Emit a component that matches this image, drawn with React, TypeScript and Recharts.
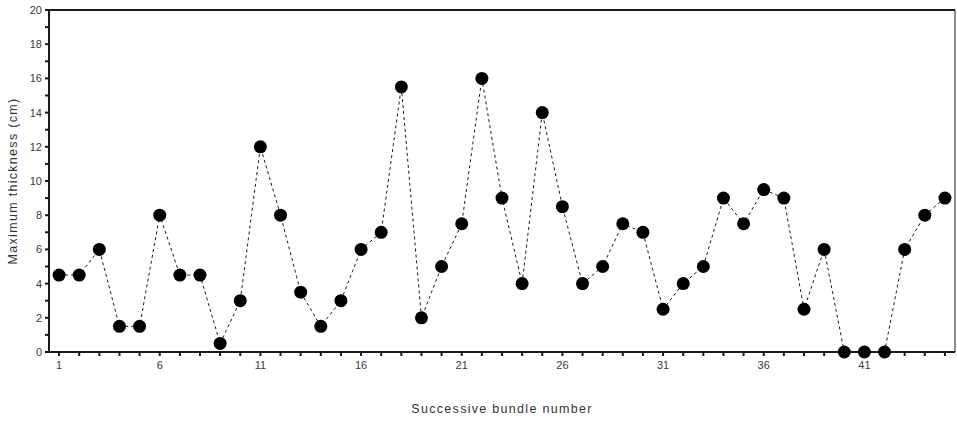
import React from 'react';
import { LineChart, Line, XAxis, YAxis, ReferenceLine, Label } from 'recharts';

const bundles = [
    1, 2, 3, 4, 5, 6, 7, 8, 9, 10, 11, 12, 13, 14, 15, 16, 17, 18, 19, 20, 21, 22, 23,
    24, 25, 26, 27, 28, 29, 30, 31, 32, 33, 34, 35, 36, 37, 38, 39, 40, 41, 42, 43, 44, 45,
];

const thickness = [
    4.5, 4.5, 6, 1.5, 1.5, 8, 4.5, 4.5, 0.5, 3, 12, 8, 3.5, 1.5, 3, 6, 7, 15.5, 2, 5, 7.5, 16, 9,
    4, 14, 8.5, 4, 5, 7.5, 7, 2.5, 4, 5, 9, 7.5, 9.5, 9, 2.5, 6, 0, 0, 0, 6, 8, 9,
];

const xLabeled = [1, 6, 11, 16, 21, 26, 31, 36, 41];
const yTicks = [0, 1, 2, 3, 4, 5, 6, 7, 8, 9, 10, 11, 12, 13, 14, 15, 16, 17, 18, 19, 20];

const data = bundles.map((b, i) => ({ bundle: b, thickness: thickness[i] }));

const FONT = '"Liberation Sans", Arial, sans-serif';
const INK = '#1a1a1a';
const tickStyle = { fontSize: 11, fill: '#3a3a3a', fontFamily: FONT };
const titleStyle = { fontSize: 12.5, fill: '#333', fontFamily: FONT, letterSpacing: 1.3 };

const YTitle = ({ viewBox }: any) => {
    const x = viewBox.x + 13;
    const y = viewBox.y + viewBox.height / 2;
    return (
        <text
            x={x}
            y={y}
            transform={`rotate(-90, ${x}, ${y})`}
            textAnchor='middle'
            dominantBaseline='central'
            style={titleStyle}
        >
            Maximum thickness (cm)
        </text>
    );
};

const XTitle = ({ viewBox }: any) => (
    <text
        x={viewBox.x + viewBox.width / 2}
        y={viewBox.y + 57}
        textAnchor='middle'
        dominantBaseline='central'
        style={titleStyle}
    >
        Successive bundle number
    </text>
);

export default function App() {
    return (
        <div style={{ position: 'absolute', left: 0, top: 0, background: '#fff' }}>
            <LineChart width={957} height={421} data={data} margin={{ top: 10, right: 2, bottom: 39, left: 0 }}>
                <XAxis
                    dataKey='bundle'
                    type='number'
                    domain={[0.5, 45.5]}
                    ticks={bundles}
                    interval={0}
                    tickFormatter={(v: number) => (xLabeled.includes(v) ? String(v) : '')}
                    tick={tickStyle}
                    tickSize={4}
                    tickMargin={5}
                    height={30}
                    axisLine={{ stroke: INK, strokeWidth: 2 }}
                    tickLine={{ stroke: INK, strokeWidth: 2 }}
                >
                    <Label content={<XTitle />} />
                </XAxis>
                <YAxis
                    type='number'
                    domain={[0, 20]}
                    ticks={yTicks}
                    interval={0}
                    tickFormatter={(v: number) => (v % 2 === 0 ? String(v) : '')}
                    tick={tickStyle}
                    tickSize={4}
                    tickMargin={3}
                    width={49}
                    axisLine={{ stroke: INK, strokeWidth: 2 }}
                    tickLine={{ stroke: INK, strokeWidth: 2 }}
                >
                    <Label content={<YTitle />} />
                </YAxis>
                <ReferenceLine y={20} stroke={INK} strokeWidth={2} />
                <ReferenceLine x={45.5} stroke={INK} strokeWidth={1} />
                <Line
                    type='linear'
                    dataKey='thickness'
                    stroke={INK}
                    strokeWidth={1}
                    strokeDasharray='3 3'
                    dot={{ r: 6.5, fill: '#000', stroke: '#000', strokeWidth: 0 }}
                    activeDot={false}
                    isAnimationActive={false}
                />
            </LineChart>
        </div>
    );
}
